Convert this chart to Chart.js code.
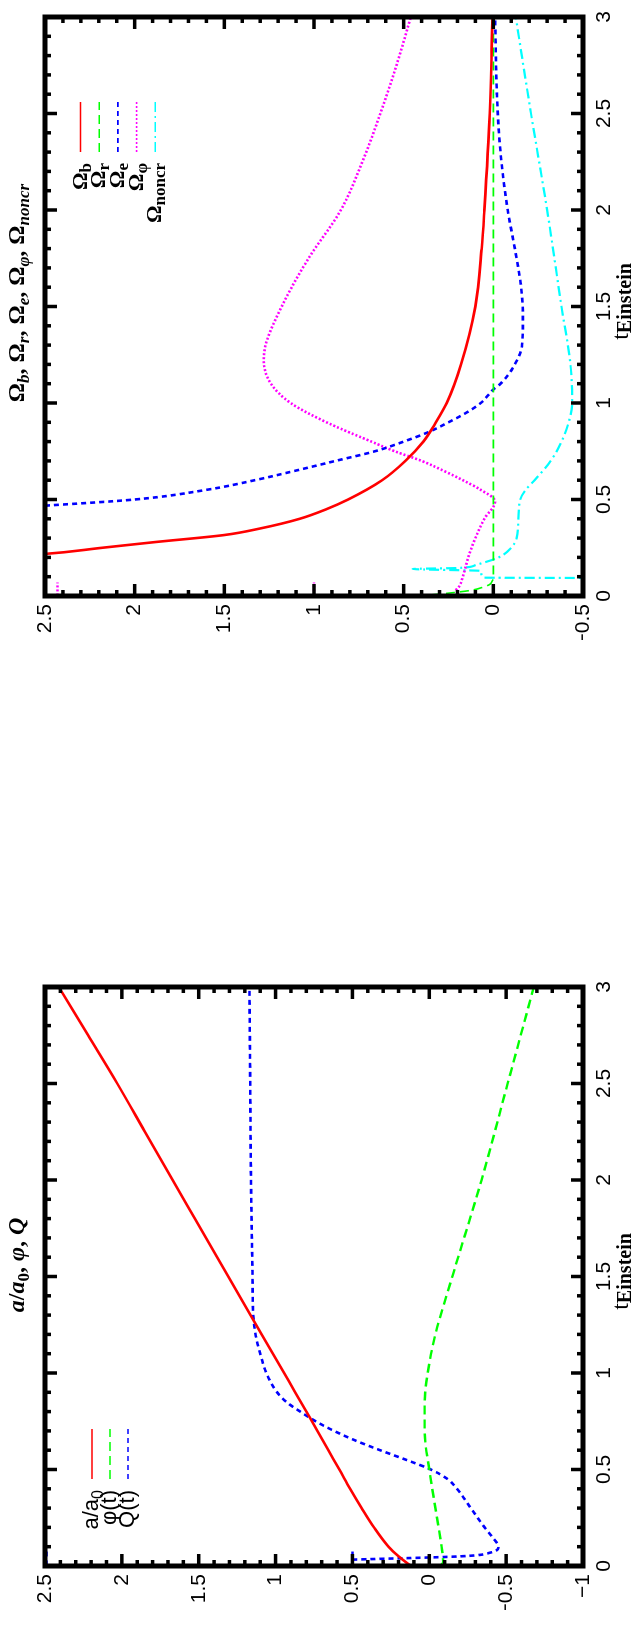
<!DOCTYPE html>
<html>
<head>
<meta charset="utf-8">
<script src="https://cdn.jsdelivr.net/npm/chart.js@4"></script>
<style>
  body { margin: 0; width: 641px; height: 1635px; overflow: hidden; background: #fff; position: relative; }
  .panel { position: absolute; left: 0; top: 0; width: 640px; height: 641px; transform-origin: 0 0; }
  #p1 { transform: translate(0px, 640px) rotate(-90deg); }
  #p2 { transform: translate(0px, 1610px) rotate(-90deg); }
</style>
</head>
<body>
<div class="panel" id="p1"><canvas id="c1" width="640" height="641"></canvas></div>
<div class="panel" id="p2"><canvas id="c2" width="640" height="641"></canvas></div>
<script>
const SERIF = "'Liberation Serif', 'DejaVu Serif', serif";
const SANS = "'Liberation Sans', 'DejaVu Sans', sans-serif";

// ---- top panel: density parameters vs t_Einstein ----
const tOmegaB = [0.20, 0.218, 0.25, 0.28, 0.316, 0.35, 0.40, 0.45, 0.50, 0.60, 0.70, 0.80, 0.90, 1.00, 1.20, 1.50, 1.80, 2.00, 2.50, 3.00];
const omegaB  = [2.85, 2.50, 2.18, 1.88, 1.50, 1.30, 1.08, 0.93, 0.81, 0.62, 0.49, 0.39, 0.32, 0.26, 0.18, 0.10, 0.065, 0.05, 0.02, 0.005];

const tOmegaR = [0.0, 0.01, 0.02, 0.03, 0.045, 0.06, 0.08, 0.10, 1.0, 2.0, 3.0];
const omegaR  = [0.42, 0.30, 0.20, 0.12, 0.06, 0.02, 0.005, 0.0, 0.0, 0.0, 0.0];

const tOmegaE = [0.45, 0.468, 0.50, 0.55, 0.60, 0.65, 0.70, 0.75, 0.80, 0.85, 0.90, 0.95, 1.00, 1.07, 1.10, 1.20, 1.30, 1.45, 1.60, 1.80, 2.00, 2.30, 2.60, 3.00];
const omegaE  = [2.80, 2.50, 2.00, 1.60, 1.33, 1.10, 0.88, 0.66, 0.50, 0.36, 0.25, 0.15, 0.07, 0.0, -0.04, -0.12, -0.16, -0.165, -0.155, -0.12, -0.08, -0.04, -0.02, -0.01];

const tOmegaPhi = [0.03, 0.05, 0.10, 0.20, 0.30, 0.40, 0.49, 0.55, 0.60, 0.65, 0.70, 0.75, 0.80, 0.90, 1.00, 1.10, 1.22, 1.30, 1.50, 1.75, 2.00, 2.25, 2.50, 2.75, 3.00];
const omegaPhi  = [0.21, 0.19, 0.17, 0.14, 0.10, 0.05, -0.01, 0.07, 0.17, 0.28, 0.40, 0.55, 0.68, 0.93, 1.13, 1.24, 1.28, 1.27, 1.18, 1.03, 0.85, 0.73, 0.63, 0.54, 0.46];
// short early stretches of the Ω_φ trace right at t ≈ 0
const tOmegaPhiEarly = [0.003, 0.07];
const omegaPhiEarlyHi = [2.43, 2.43];
const omegaPhiEarlyLo = [1.0, 1.0];

const tOmegaNoncr = [0.085, 0.093, 0.095, 0.13, 0.14, 0.145, 0.16, 0.20, 0.25, 0.30, 0.40, 0.50, 0.55, 0.60, 0.70, 0.80, 0.90, 1.00, 1.20, 1.50, 2.00, 2.50, 3.00];
const omegaNoncr  = [-0.9, -0.6, 0.05, 0.07, 0.45, 0.20, 0.10, -0.03, -0.10, -0.13, -0.14, -0.15, -0.18, -0.23, -0.32, -0.38, -0.42, -0.44, -0.43, -0.38, -0.30, -0.21, -0.125];

// ---- bottom panel: a/a0, phi, Q vs t_Einstein ----
const tScale = [0.0, 0.05, 0.10, 0.20, 0.30, 0.40, 0.50, 0.60, 0.70, 0.80, 0.90, 1.00, 1.20, 1.40, 1.60, 1.80, 2.00, 2.25, 2.50, 2.75, 3.00];
const scaleA = [0.12, 0.20, 0.265, 0.36, 0.44, 0.515, 0.585, 0.657, 0.728, 0.80, 0.872, 0.945, 1.09, 1.235, 1.38, 1.525, 1.67, 1.85, 2.03, 2.22, 2.41];

const tPhi = [0.0, 0.02, 0.10, 0.25, 0.50, 0.70, 0.85, 1.00, 1.20, 1.50, 2.00, 2.50, 3.00];
const phi  = [-0.07, -0.09, -0.08, -0.05, 0.0, 0.03, 0.03, 0.01, -0.04, -0.15, -0.34, -0.51, -0.68];

const tQ = [0.033, 0.05, 0.07, 0.10, 0.15, 0.20, 0.30, 0.40, 0.45, 0.50, 0.55, 0.60, 0.65, 0.70, 0.75, 0.80, 0.85, 0.90, 1.00, 1.10, 1.20, 1.30, 1.50, 2.00, 2.50, 3.00];
const q  = [0.50, -0.20, -0.40, -0.45, -0.41, -0.36, -0.27, -0.18, -0.12, -0.01, 0.15, 0.32, 0.48, 0.62, 0.74, 0.84, 0.93, 0.99, 1.06, 1.10, 1.13, 1.145, 1.15, 1.16, 1.165, 1.17];
// short early stretches of the Q trace right at t ≈ 0
const tQEarly = [0.003, 0.075];
const qEarlyHi = [2.49, 2.49];
const qEarlyLo = [0.50, 0.50];

function pts(ts, vs) {
  return ts.map((t, i) => ({ x: t, y: vs[i] }));
}

function fmt(value) {
  return String(Number(value.toFixed(1))).replace('-', '\u2212');
}

// draw a run of text pieces: [text, font, dy]
function drawRich(ctx, parts, x, y, align) {
  let w = 0;
  parts.forEach(p => { ctx.font = p[1]; w += ctx.measureText(p[0]).width; });
  let cx = align === 'center' ? x - w / 2 : align === 'right' ? x - w : x;
  ctx.textAlign = 'left';
  ctx.textBaseline = 'alphabetic';
  parts.forEach(p => {
    ctx.font = p[1];
    ctx.fillText(p[0], cx, y + (p[2] || 0));
    cx += ctx.measureText(p[0]).width;
  });
}

// frame, inward ticks, title, x label and legend in gnuplot style
const gnuDecor = {
  id: 'gnuDecor',
  afterDatasetsDraw(chart, args, opts) {
    const { ctx, chartArea: a, scales: { x, y } } = chart;
    ctx.save();
    ctx.strokeStyle = '#000';
    ctx.lineWidth = 3.5;
    ctx.setLineDash([]);
    const seg = (x1, y1, x2, y2) => { ctx.beginPath(); ctx.moveTo(x1, y1); ctx.lineTo(x2, y2); ctx.stroke(); };
    const nx = Math.round((x.max - x.min) * 10);
    for (let i = 0; i <= nx; i++) {
      const px = x.getPixelForValue(x.min + i / 10);
      const len = i % 5 === 0 ? 12 : 6;
      seg(px, a.bottom, px, a.bottom - len);
      seg(px, a.top, px, a.top + len);
    }
    const ny = Math.round((y.max - y.min) * 10);
    for (let i = 0; i <= ny; i++) {
      const py = y.getPixelForValue(y.min + i / 10);
      const len = i % 5 === 0 ? 12 : 6;
      seg(a.left, py, a.left + len, py);
      seg(a.right, py, a.right - len, py);
    }
    ctx.lineWidth = 5;
    ctx.strokeRect(a.left, a.top, a.right - a.left, a.bottom - a.top);

    ctx.fillStyle = '#000';
    drawRich(ctx, opts.title, opts.titleX, opts.titleY, 'center');
    drawRich(ctx, [['t', '24px ' + SERIF], ['Einstein', 'bold 20px ' + SERIF, 3]], (a.left + a.right) / 2 + 5, 628, 'center');

    const lg = opts.legend;
    lg.items.forEach((it, i) => {
      const rowY = lg.top + i * lg.step;
      ctx.fillStyle = '#000';
      drawRich(ctx, it.text, lg.textRight, rowY + 6, 'right');
      ctx.strokeStyle = it.color;
      ctx.lineWidth = 1.6;
      ctx.setLineDash(it.dash);
      seg(lg.sampleLeft, rowY, lg.sampleRight, rowY);
    });
    ctx.restore();
  }
};

function series(label, data, color, dash, width) {
  return {
    label, data, borderColor: color, borderDash: dash, borderWidth: width,
    pointRadius: 0, fill: false, cubicInterpolationMode: 'monotone'
  };
}

function makeChart(id, yMin, datasets, decor) {
  return new Chart(document.getElementById(id), {
    type: 'line',
    data: { datasets },
    options: {
      responsive: false,
      animation: false,
      layout: { padding: { left: 0, right: 17, top: 45, bottom: 0 } },
      scales: {
        x: {
          type: 'linear', min: 0, max: 3,
          afterFit: s => { s.height = 58; },
          grid: { display: false, drawTicks: false },
          border: { display: false },
          ticks: { stepSize: 0.5, autoSkip: false, maxRotation: 0, padding: 9, color: '#000',
                   font: { family: SANS, size: 21 }, callback: fmt }
        },
        y: {
          type: 'linear', min: yMin, max: 2.5,
          afterFit: s => { s.width = 44; },
          grid: { display: false, drawTicks: false },
          border: { display: false },
          ticks: { stepSize: 0.5, padding: 8, color: '#000',
                   font: { family: SANS, size: 21 }, callback: fmt }
        }
      },
      plugins: {
        legend: { display: false },
        tooltip: { enabled: false },
        gnuDecor: decor
      }
    },
    plugins: [gnuDecor]
  });
}

const OM = 'bold 24px ' + SERIF;
const SUB = 'italic bold 17px ' + SERIF;
const LOM = 'bold 22px ' + SERIF;
const LSUB = 'bold 17px ' + SERIF;

const dashes = { solid: [], long: [9, 5], short: [5, 4], dot: [2, 2], dashDot: [10, 4, 2, 4] };

makeChart('c1', -0.5, [
  series('Ωb', pts(tOmegaB, omegaB), '#ff0000', dashes.solid, 2.6),
  series('Ωr', pts(tOmegaR, omegaR), '#00ff00', dashes.long, 1.6),
  series('Ωe', pts(tOmegaE, omegaE), '#0000ff', dashes.short, 2.6),
  series('Ωφ', pts(tOmegaPhi, omegaPhi), '#ff00ff', dashes.dot, 2.6),
  series('Ωφ early', pts(tOmegaPhiEarly, omegaPhiEarlyHi), '#ff00ff', dashes.dot, 2.6),
  series('Ωφ early', pts(tOmegaPhiEarly, omegaPhiEarlyLo), '#ff00ff', dashes.dot, 2.6),
  series('Ωnoncr', pts(tOmegaNoncr, omegaNoncr), '#00ffff', dashes.dashDot, 2.2)
], {
  titleX: 347, titleY: 24,
  title: [['Ω', OM], ['b', SUB, 5], [', Ω', OM], ['r', SUB, 5], [', Ω', OM], ['e', SUB, 5],
          [', Ω', OM], ['φ', SUB, 5], [', Ω', OM], ['noncr', SUB, 5]],
  legend: {
    top: 80.5, step: 18.7, textRight: 477, sampleLeft: 488, sampleRight: 538,
    items: [
      { text: [['Ω', LOM], ['b', LSUB, 4]], color: '#ff0000', dash: dashes.solid },
      { text: [['Ω', LOM], ['r', LSUB, 4]], color: '#00ff00', dash: dashes.long },
      { text: [['Ω', LOM], ['e', LSUB, 4]], color: '#0000ff', dash: dashes.short },
      { text: [['Ω', LOM], ['φ', LSUB, 4]], color: '#ff00ff', dash: dashes.dot },
      { text: [['Ω', LOM], ['noncr', LSUB, 4]], color: '#00ffff', dash: dashes.dashDot }
    ]
  }
});

const TI = 'italic bold 24px ' + SERIF;
const LS = '22px ' + SANS;

makeChart('c2', -1, [
  series('a/a0', pts(tScale, scaleA), '#ff0000', dashes.solid, 2.6),
  series('φ(t)', pts(tPhi, phi), '#00ff00', dashes.long, 2.4),
  series('Q(t)', pts(tQ, q), '#0000ff', dashes.short, 2.6),
  series('Q early', pts(tQEarly, qEarlyHi), '#0000ff', dashes.short, 2.6),
  series('Q early', pts(tQEarly, qEarlyLo), '#0000ff', dashes.short, 2.6)
], {
  titleX: 345, titleY: 24,
  title: [['a', TI], ['/', 'bold 24px ' + SERIF], ['a', TI], ['0', 'bold 17px ' + SERIF, 5],
          [', ', 'bold 24px ' + SERIF], ['φ', TI], [', ', 'bold 24px ' + SERIF], ['Q', TI]],
  legend: {
    top: 92, step: 18, textRight: 120, sampleLeft: 131, sampleRight: 181,
    items: [
      { text: [['a/a', LS], ['0', '16px ' + SANS, 5]], color: '#ff0000', dash: dashes.solid },
      { text: [['φ(t)', LS]], color: '#00ff00', dash: dashes.long },
      { text: [['Q(t)', LS]], color: '#0000ff', dash: dashes.short }
    ]
  }
});
</script>
</body>
</html>
